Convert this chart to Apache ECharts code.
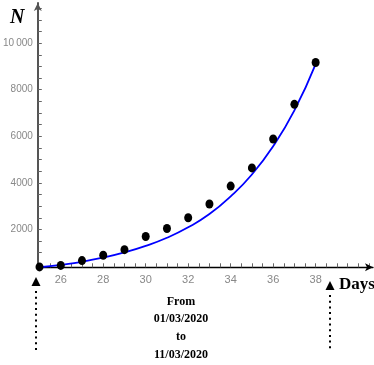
<!DOCTYPE html>
<html>
<head>
<meta charset="utf-8">
<script src="https://cdn.jsdelivr.net/npm/echarts@6/dist/echarts.min.js"></script>
<style>
  html, body { margin: 0; padding: 0; background: #fff; }
  #chart { width: 374px; height: 365px; }
</style>
</head>
<body>
<div id="chart"></div>
<script>
// cumulative cases, day 25 .. 38
var days = [25, 26, 27, 28, 29, 30, 31, 32, 33, 34, 35, 36, 37, 38];
var cases = [390, 455, 660, 890, 1130, 1695, 2040, 2500, 3090, 3860, 4640, 5885, 7370, 9170];
// fitted curve
var fitValues = [375, 480, 610, 790, 1010, 1290, 1640, 2090, 2660, 3420, 4360, 5570, 7110, 9100];
var xLabels = [26, 28, 30, 32, 34, 36, 38];
var yLabels = [2000, 4000, 6000, 8000, 10000];
var dateLines = ['From', '01/03/2020', 'to', '11/03/2020'];

var xTicks = [];
for (var t = 25; t <= 40.5; t += 0.5) xTicks.push(t);
var yTicks = [];
for (var v = 500; v <= 11500; v += 500) yTicks.push(v);

function pairs(xs, ys) {
    return xs.map(function (x, i) { return [x, ys[i]]; });
}

function dottedArrow(x, top) {
    return [{
        type: 'polygon',
        shape: { points: [[x, top], [x - 4.5, top + 9], [x + 4.5, top + 9]] },
        style: { fill: '#000' }
    }, {
        type: 'line',
        shape: { x1: x, y1: top + 14, x2: x, y2: 352 },
        style: { stroke: '#000', lineWidth: 2, lineDash: [2, 3.7] }
    }];
}

var myChart = echarts.init(document.getElementById('chart'));
var option = {
    animation: false,
    grid: { left: 37, right: 1, top: 3, bottom: 97.7 },
    xAxis: {
        type: 'value',
        min: 24.92,
        max: 40.7,
        splitLine: { show: false },
        axisLine: {
            onZero: false,
            symbol: ['none', 'arrow'],
            symbolSize: [6, 8],
            lineStyle: { color: '#000', width: 1.3 }
        },
        axisTick: {
            inside: true,
            length: 4,
            customValues: xTicks,
            lineStyle: { color: '#666' }
        },
        axisLabel: {
            customValues: xLabels,
            color: '#888',
            fontSize: 11,
            fontFamily: 'Liberation Sans',
            margin: 7
        }
    },
    yAxis: {
        type: 'value',
        min: 373,
        max: 11723,
        splitLine: { show: false },
        axisLine: {
            show: true,
            onZero: false,
            symbol: ['none', 'arrow'],
            symbolSize: [6, 8],
            lineStyle: { color: '#555', width: 2 }
        },
        axisTick: {
            show: true,
            inside: true,
            length: 4,
            customValues: yTicks,
            lineStyle: { color: '#666' }
        },
        axisLabel: {
            customValues: yLabels,
            color: '#888',
            fontSize: 10,
            fontFamily: 'Liberation Sans',
            margin: 5,
            formatter: function (val) {
                return val >= 10000 ? '10\u2009000' : String(val);
            }
        }
    },
    series: [{
        type: 'line',
        data: pairs(days, fitValues),
        smooth: true,
        showSymbol: false,
        lineStyle: { color: '#0000ff', width: 1.8 },
        z: 2
    }, {
        type: 'scatter',
        data: pairs(days, cases),
        symbolSize: [8, 9],
        clip: false,
        itemStyle: { color: '#000', opacity: 1 },
        z: 3
    }],
    graphic: [].concat(
        dottedArrow(36, 277),
        dottedArrow(330, 281),
        [{
            type: 'text',
            left: 10,
            top: 8,
            style: {
                text: 'N',
                font: 'italic bold 20px "Liberation Serif"',
                fill: '#000'
            }
        }, {
            type: 'text',
            left: 339,
            top: 276,
            style: {
                text: 'Days',
                font: 'bold 17px "Liberation Serif"',
                fill: '#000'
            }
        }, {
            type: 'text',
            x: 181,
            y: 293,
            style: {
                text: dateLines.join('\n'),
                font: 'bold 12px "Liberation Serif"',
                lineHeight: 17.6,
                align: 'center',
                fill: '#000'
            }
        }]
    )
};
myChart.setOption(option);
</script>
</body>
</html>
